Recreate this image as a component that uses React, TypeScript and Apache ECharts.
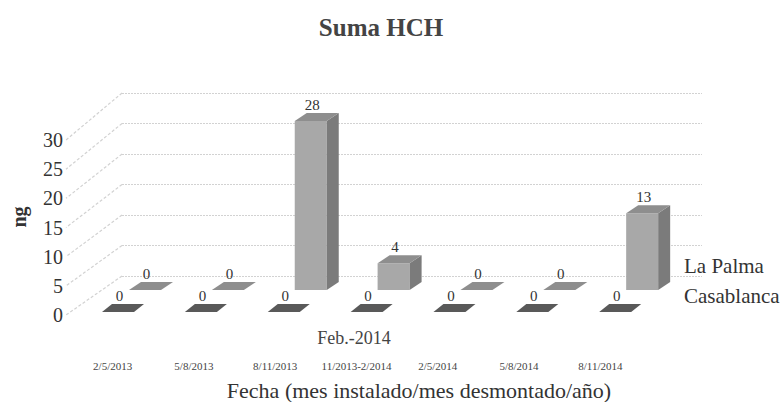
import React, { useEffect, useRef } from "react";
import * as echarts from "echarts";

const categories = ["2/5/2013", "5/8/2013", "8/11/2013", "11/2013-2/2014", "2/5/2014", "5/8/2014", "8/11/2014"];
const laPalma = [0, 0, 27.7, 4.4, 0, 0, 12.6];
const casablanca = [0, 0, 0, 0, 0, 0, 0];
const yTicks = [0, 5, 10, 15, 20, 25, 30];
const seriesNames = ["La Palma", "Casablanca"];

const SERIF = '"Liberation Serif", "Times New Roman", serif';
const BACK = { left: 122, top: 93, width: 580, height: 183 };
const FRONT = { left: 66, top: 140, height: 175 };
const Y_MAX = 30;

type RowStyle = { dx: number; dy: number; depthX: number; depthY: number; front: string; side: string; top: string };

const rowLaPalma: RowStyle = { dx: -18.4, dy: 14, depthX: 12, depthY: -8, front: "#a8a8a8", side: "#7b7b7b", top: "#8e8e8e" };
const rowCasablanca: RowStyle = { dx: -45.4, dy: 36, depthX: 10, depthY: -8, front: "#6a6a6a", side: "#4a4a4a", top: "#595959" };

function makeBarRenderer(row: RowStyle) {
  return (params: any, api: any) => {
    const cat = api.value(0);
    const v = api.value(1);
    const base = api.coord([cat, 0]);
    const topPt = api.coord([cat, v]);
    const hw = 16;
    const cx = base[0] + row.dx;
    const yb = base[1] + row.dy;
    const yt = topPt[1] + row.dy;
    const children: any[] = [];
    if (yb - yt > 0.5) {
      children.push({
        type: "rect",
        shape: { x: cx - hw, y: yt, width: hw * 2, height: yb - yt },
        style: { fill: row.front },
      });
      children.push({
        type: "polygon",
        shape: {
          points: [
            [cx + hw, yb],
            [cx + hw, yt],
            [cx + hw + row.depthX, yt + row.depthY],
            [cx + hw + row.depthX, yb + row.depthY],
          ],
        },
        style: { fill: row.side },
      });
    }
    children.push({
      type: "polygon",
      shape: {
        points: [
          [cx - hw, yt],
          [cx + hw, yt],
          [cx + hw + row.depthX, yt + row.depthY],
          [cx - hw + row.depthX, yt + row.depthY],
        ],
      },
      style: { fill: row.top },
    });
    children.push({
      type: "text",
      style: {
        text: String(Math.round(v)),
        x: cx + 1.5,
        y: yt + row.depthY - 8,
        align: "center",
        verticalAlign: "middle",
        font: `15px ${SERIF}`,
        fill: "#333",
      },
    });
    return { type: "group", children };
  };
}

export default function App() {
  const ref = useRef<HTMLDivElement>(null);
  useEffect(() => {
    if (!ref.current) return;
    const chart = echarts.init(ref.current, undefined, { renderer: "svg" });
    const option: any = {
      animation: false,
      backgroundColor: "#ffffff",
      title: {
        text: "Suma HCH",
        left: 376,
        top: 10,
        textAlign: "center",
        textStyle: { fontFamily: SERIF, fontSize: 25, fontWeight: "bold", color: "#444" },
      },
      legend: {
        data: seriesNames,
        orient: "vertical",
        left: 679,
        top: 253,
        padding: 0,
        icon: "none",
        itemWidth: 0,
        itemGap: 4,
        selectedMode: false,
        textStyle: { fontFamily: SERIF, fontSize: 21, color: "#333", lineHeight: 26 },
      },
      grid: [
        { left: BACK.left, top: BACK.top, width: BACK.width, height: BACK.height },
        { left: FRONT.left, top: FRONT.top, width: 10, height: FRONT.height },
        { left: 72, top: 355, width: 569, height: 1 },
      ],
      xAxis: [
        { type: "category", data: categories, gridIndex: 0, show: false },
        { type: "category", data: categories, gridIndex: 1, show: false },
        {
          type: "category",
          data: categories,
          gridIndex: 2,
          axisLine: { show: false },
          axisTick: { show: false },
          axisLabel: { margin: 4, fontFamily: SERIF, fontSize: 11, color: "#444", interval: 0 },
        },
      ],
      yAxis: [
        {
          type: "value",
          gridIndex: 0,
          min: 0,
          max: Y_MAX,
          interval: 5,
          axisLabel: { show: false },
          axisLine: { show: false },
          axisTick: { show: false },
          splitLine: { show: true, lineStyle: { color: "#d2d2d2", type: [2, 1], width: 1.2 } },
        },
        {
          type: "value",
          gridIndex: 1,
          min: 0,
          max: Y_MAX,
          interval: 5,
          axisLine: { show: false },
          axisTick: { show: false },
          splitLine: { show: false },
          axisLabel: { margin: 3, fontFamily: SERIF, fontSize: 20, color: "#333" },
        },
        { type: "value", gridIndex: 2, show: false },
      ],
      graphic: [
        {
          type: "text",
          x: 19,
          y: 217,
          rotation: Math.PI / 2,
          style: {
            text: "ng",
            font: `bold 20px ${SERIF}`,
            fill: "#333",
            align: "center",
            verticalAlign: "middle",
          },
        },
        {
          type: "text",
          x: 354,
          y: 338,
          style: {
            text: "Feb.-2014",
            font: `18px ${SERIF}`,
            fill: "#444",
            align: "center",
            verticalAlign: "middle",
          },
        },
        {
          type: "text",
          x: 419,
          y: 390,
          style: {
            text: "Fecha (mes instalado/mes desmontado/año)",
            font: `22px ${SERIF}`,
            fill: "#333",
            align: "center",
            verticalAlign: "middle",
          },
        },
      ],
      series: [
        {
          type: "custom",
          name: "floor-lines",
          xAxisIndex: 0,
          yAxisIndex: 0,
          silent: true,
          data: yTicks.map((v) => [0, v]),
          encode: { x: 0, y: 1 },
          renderItem: (params: any, api: any) => {
            const v = api.value(1);
            const yb = api.coord([0, v])[1];
            const xb = params.coordSys.x;
            const yf = FRONT.top + (1 - v / Y_MAX) * FRONT.height;
            return {
              type: "line",
              shape: { x1: xb, y1: yb, x2: FRONT.left, y2: yf },
              style: { stroke: "#d2d2d2", lineWidth: 1.2, lineDash: [3, 2] },
            };
          },
        },
        {
          type: "custom",
          name: seriesNames[0],
          xAxisIndex: 0,
          yAxisIndex: 0,
          data: laPalma.map((v, i) => [i, v]),
          encode: { x: 0, y: 1 },
          itemStyle: { color: rowLaPalma.front },
          renderItem: makeBarRenderer(rowLaPalma),
        },
        {
          type: "custom",
          name: seriesNames[1],
          xAxisIndex: 0,
          yAxisIndex: 0,
          data: casablanca.map((v, i) => [i, v]),
          encode: { x: 0, y: 1 },
          itemStyle: { color: rowCasablanca.top },
          renderItem: makeBarRenderer(rowCasablanca),
        },
      ],
    };
    chart.setOption(option);
    return () => chart.dispose();
  }, []);
  return (
    <div
      ref={ref}
      style={{ position: "absolute", left: 0, top: 0, width: 782, height: 402 }}
    />
  );
}
